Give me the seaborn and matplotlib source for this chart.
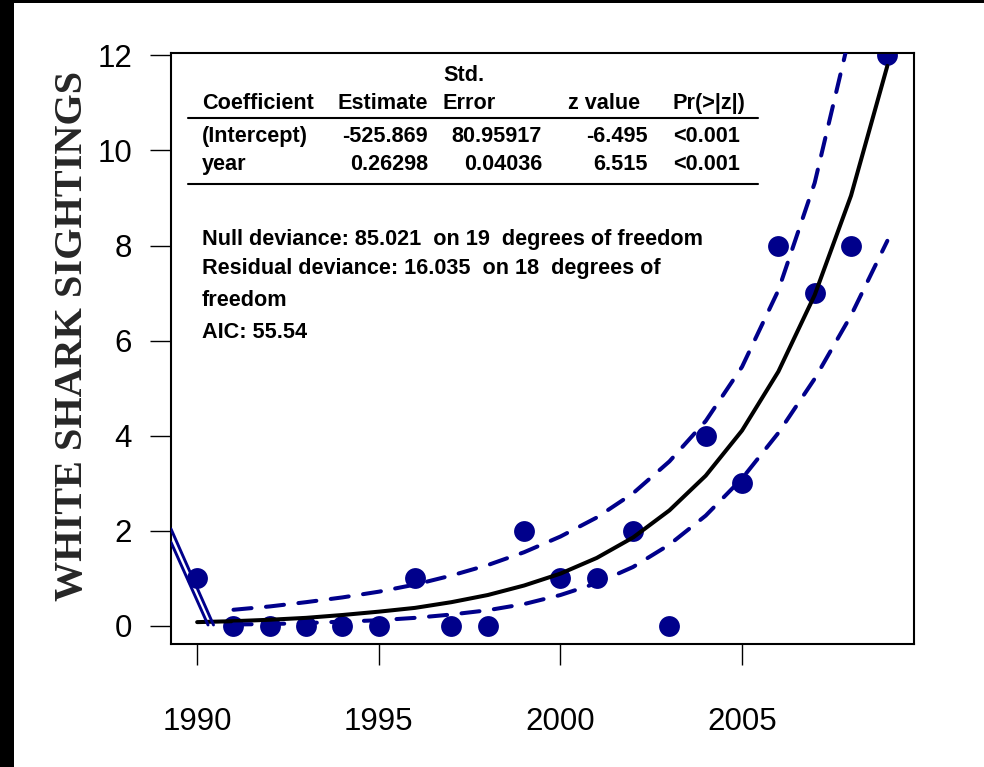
import matplotlib
matplotlib.use("Agg")
import matplotlib.pyplot as plt
from matplotlib.lines import Line2D
from matplotlib.patches import Rectangle
import seaborn as sns

# ---------------- data ----------------
years = list(range(1990, 2010))
sightings = [1, 0, 0, 0, 0, 0, 1, 0, 0, 2, 1, 1, 2, 0, 4, 3, 8, 7, 8, 12]
fitted = [0.08, 0.10, 0.13, 0.17, 0.23, 0.30, 0.38, 0.50, 0.65, 0.85,
          1.10, 1.43, 1.86, 2.43, 3.16, 4.11, 5.35, 6.96, 9.05, 11.78]
ci_years = list(range(1991, 2010))
ci_upper = [0.34, 0.41, 0.50, 0.60, 0.72, 0.87, 1.06, 1.28, 1.55, 1.88,
            2.28, 2.79, 3.46, 4.31, 5.45, 7.06, 9.32, 12.54, 17.14]
ci_lower = [0.03, 0.04, 0.06, 0.09, 0.12, 0.17, 0.24, 0.33, 0.46, 0.65,
            0.90, 1.24, 1.71, 2.32, 3.10, 4.06, 5.20, 6.53, 8.10]
stub_a_x = [1989.28, 1990.45]
stub_a_y = [2.04, 0.02]
stub_b_x = [1989.28, 1990.30]
stub_b_y = [1.76, 0.02]

x_ticks = [1990, 1995, 2000, 2005]
y_ticks = [0, 2, 4, 6, 8, 10, 12]
y_label = "WHITE SHARK SIGHTINGS"

table_header = ["Coefficient", "Estimate", "Std.", "Error", "z value", "Pr(>|z|)"]
row_intercept = ["(Intercept)", "-525.869", "80.95917", "-6.495", "<0.001"]
row_year = ["year", "0.26298", "0.04036", "6.515", "<0.001"]
notes = ["Null deviance: 85.021  on 19  degrees of freedom",
         "Residual deviance: 16.035  on 18  degrees of",
         "freedom",
         "AIC: 55.54"]

# ---------------- style ----------------
sns.set_style("ticks")
plt.rcParams['font.family'] = ['Liberation Sans', 'DejaVu Sans']

W, H = 984, 767
NAVY = "#00008B"
fig = plt.figure(figsize=(W / 100, H / 100), dpi=100, facecolor="white")

def fx(px):
    return px / W

def fy(py):
    return 1 - py / H

ax = fig.add_axes([fx(171), fy(644), fx(913.5) - fx(171), fy(53) - fy(644)])
ax.set_facecolor("white")

sns.scatterplot(x=years, y=sightings, s=225, color=NAVY, edgecolor=NAVY,
                linewidth=0, ax=ax, zorder=2, legend=False)

sns.lineplot(x=years, y=fitted, color="black", linewidth=2.9, ax=ax,
             estimator=None, sort=False, zorder=3, legend=False)
ax.lines[-1].set_solid_capstyle("round")

for yy in (ci_upper, ci_lower):
    sns.lineplot(x=ci_years, y=yy, color=NAVY, linewidth=2.9, ax=ax,
                 estimator=None, sort=False, zorder=3, legend=False)
    ln = ax.lines[-1]
    ln.set_dashes([4.5, 3.6])
    ln.set_dash_capstyle("round")

for sx, sy in ((stub_a_x, stub_a_y), (stub_b_x, stub_b_y)):
    sns.lineplot(x=sx, y=sy, color=NAVY, linewidth=2.1, ax=ax,
                 estimator=None, sort=False, zorder=3, legend=False)

ax.set_xlim(1989.28, 2009.72)
ax.set_ylim(-0.38, 12.05)
ax.set_xticks(x_ticks)
ax.set_yticks(y_ticks)
ax.set_xticklabels([str(v) for v in x_ticks])
ax.set_yticklabels([str(v) for v in y_ticks])
ax.tick_params(axis="both", direction="out", length=15, width=1.0,
               color="black", labelsize=22.5, labelcolor="black")
ax.tick_params(axis="x", pad=30)
ax.tick_params(axis="y", pad=13)
for sp in ax.spines.values():
    sp.set_visible(True)
    sp.set_linewidth(1.5)
    sp.set_color("black")
ax.set_xlabel("")
ax.set_ylabel("")

fig.text(fx(73), fy(336), y_label, rotation=90, ha="center", va="center",
         fontsize=29, fontweight="bold", family=["Liberation Serif", "DejaVu Serif"])

# ---------------- summary table ----------------
TS = 15.6
def t(px, py, s, ha="left"):
    fig.text(fx(px), fy(py), s, ha=ha, va="baseline", fontsize=TS,
             fontweight="bold", color="black")

t(202, 109, table_header[0])
t(428, 109, table_header[1], ha="right")
t(443, 81, table_header[2])
t(443, 109, table_header[3])
t(568, 109, table_header[4])
t(673, 109, table_header[5])

for by, row in ((142, row_intercept), (170, row_year)):
    t(202, by, row[0])
    t(428, by, row[1], ha="right")
    t(542, by, row[2], ha="right")
    t(648, by, row[3], ha="right")
    t(673, by, row[4])

for ry in (118, 184):
    fig.add_artist(Line2D([fx(188), fx(758)], [fy(ry), fy(ry)],
                          color="black", linewidth=1.5))

for by, s in zip((245, 274, 306, 338), notes):
    t(202, by, s)

# ---------------- black frame strips ----------------
fig.add_artist(Rectangle((0, 0), fx(14), 1, transform=fig.transFigure,
                         facecolor="black", edgecolor="none", zorder=10))
fig.add_artist(Rectangle((0, fy(3)), 1, 1 - fy(3), transform=fig.transFigure,
                         facecolor="black", edgecolor="none", zorder=10))

fig.savefig("out.png", dpi=100, facecolor="white")
